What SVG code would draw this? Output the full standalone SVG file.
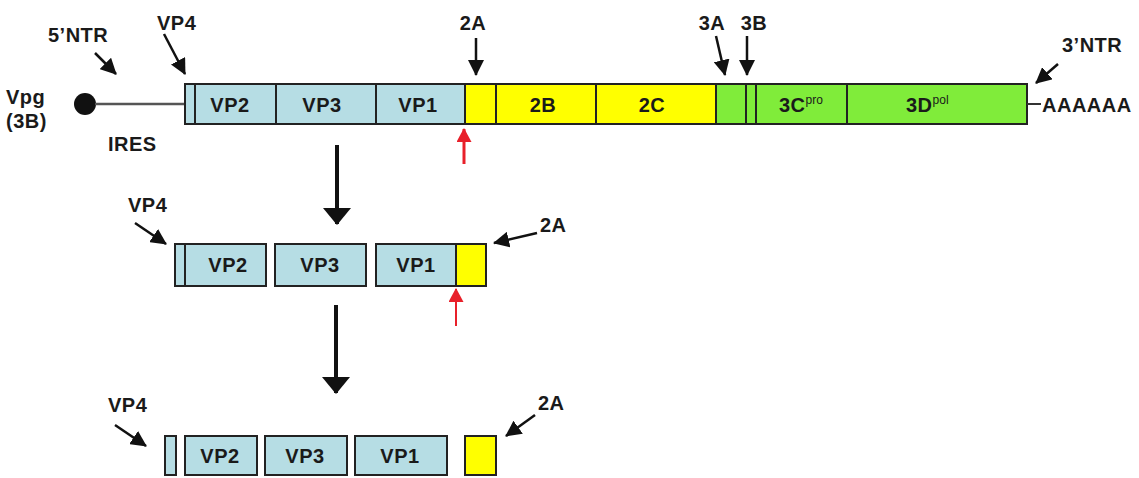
<svg xmlns="http://www.w3.org/2000/svg" width="1139" height="478" viewBox="0 0 1139 478">
<defs>
<style>
text{font-family:"Liberation Sans",Arial,sans-serif;font-weight:bold;font-size:20px;letter-spacing:0.5px;fill:#1a1a1a}
.c{text-anchor:middle}
.b{fill:#b6dde4;stroke:#222;stroke-width:2}
.y{fill:#ffff00;stroke:#222;stroke-width:2}
.g{fill:#80ec3a;stroke:#222;stroke-width:2}
.a{stroke:#111;stroke-width:2.5;fill:none}
.big{stroke:#111;stroke-width:4;fill:none}
.red{stroke:#e8202a;fill:none}
.s{font-size:12px;font-weight:normal;letter-spacing:0}
</style>
<marker id="ah" viewBox="0 0 16 16" refX="15" refY="8" markerWidth="16" markerHeight="16" orient="auto" markerUnits="userSpaceOnUse"><path d="M0,0L16,8L0,16z" fill="#111"/></marker>
<marker id="bh" viewBox="0 0 17 28" refX="16" refY="14" markerWidth="17" markerHeight="28" orient="auto" markerUnits="userSpaceOnUse"><path d="M0,0L17,14L0,28z" fill="#111"/></marker>
<marker id="rh" viewBox="0 0 14 15" refX="13" refY="7.5" markerWidth="14" markerHeight="15" orient="auto" markerUnits="userSpaceOnUse"><path d="M0,0L14,7.5L0,15z" fill="#e8202a"/></marker>
</defs>

<g id="genome">
<circle cx="85" cy="104" r="11" fill="#111"/>
<line x1="95" y1="104" x2="185" y2="104" stroke="#555" stroke-width="2.5"/>
<rect class="b" x="185" y="84" width="10" height="40"/>
<rect class="b" x="195" y="84" width="81" height="40"/>
<rect class="b" x="276" y="84" width="100" height="40"/>
<rect class="b" x="376" y="84" width="89" height="40"/>
<rect class="y" x="465" y="84" width="31" height="40"/>
<rect class="y" x="496" y="84" width="100" height="40"/>
<rect class="y" x="596" y="84" width="120" height="40"/>
<rect class="g" x="716" y="84" width="30" height="40"/>
<rect class="g" x="746" y="84" width="10" height="40"/>
<rect class="g" x="756" y="84" width="91" height="40"/>
<rect class="g" x="847" y="84" width="180" height="40"/>
<line x1="1027" y1="104" x2="1041" y2="104" stroke="#333" stroke-width="2"/>
<text class="c" x="230" y="112">VP2</text>
<text class="c" x="322" y="112">VP3</text>
<text class="c" x="418" y="112">VP1</text>
<text class="c" x="543" y="112">2B</text>
<text class="c" x="652" y="112">2C</text>
<text x="779" y="112">3C<tspan class="s" dy="-8">pro</tspan></text>
<text x="906" y="112">3D<tspan class="s" dy="-8">pol</tspan></text>
<text x="1042" y="112">AAAAAA</text>
<text x="6" y="104">Vpg</text>
<text x="6" y="128">(3B)</text>
<text x="108" y="151">IRES</text>
<text x="48" y="42">5’NTR</text>
<text x="157" y="30">VP4</text>
<text class="c" x="473" y="30">2A</text>
<text class="c" x="712" y="30">3A</text>
<text class="c" x="754" y="30">3B</text>
<text x="1062" y="52">3’NTR</text>
</g>

<g id="cleaved1">
<rect class="b" x="175" y="244" width="10" height="42"/>
<rect class="b" x="185" y="244" width="81" height="42"/>
<rect class="b" x="275" y="244" width="91" height="42"/>
<rect class="b" x="376" y="244" width="80" height="42"/>
<rect class="y" x="456" y="244" width="30" height="42"/>
<text class="c" x="228" y="272">VP2</text>
<text class="c" x="320" y="272">VP3</text>
<text class="c" x="416" y="272">VP1</text>
<text x="128" y="212">VP4</text>
<text x="540" y="232">2A</text>
</g>

<g id="cleaved2">
<rect class="b" x="165" y="436" width="11" height="39"/>
<rect class="b" x="185" y="436" width="72" height="39"/>
<rect class="b" x="265" y="436" width="82" height="39"/>
<rect class="b" x="355" y="436" width="92" height="39"/>
<rect class="y" x="465" y="436" width="31" height="39"/>
<text class="c" x="220" y="463">VP2</text>
<text class="c" x="305" y="463">VP3</text>
<text class="c" x="400" y="463">VP1</text>
<text x="108" y="412">VP4</text>
<text x="538" y="410">2A</text>
</g>

<g id="connectors">
<line class="a" x1="95" y1="53" x2="116" y2="74" marker-end="url(#ah)"/>
<line class="a" x1="164" y1="34" x2="185" y2="74" marker-end="url(#ah)"/>
<line class="a" x1="476" y1="38" x2="476" y2="75" marker-end="url(#ah)"/>
<line class="a" x1="716" y1="36" x2="725" y2="75" marker-end="url(#ah)"/>
<line class="a" x1="747" y1="36" x2="747" y2="75" marker-end="url(#ah)"/>
<line class="a" x1="1058" y1="64" x2="1036" y2="83" marker-end="url(#ah)"/>
<line class="red" stroke-width="3" x1="464" y1="164" x2="464" y2="129" marker-end="url(#rh)"/>
<line class="big" x1="337" y1="145" x2="337" y2="224" marker-end="url(#bh)"/>
<line class="a" x1="135" y1="223" x2="166" y2="244" marker-end="url(#ah)"/>
<line class="a" x1="537" y1="233" x2="494" y2="243" marker-end="url(#ah)"/>
<line class="red" stroke-width="2" x1="456" y1="326" x2="456" y2="289" marker-end="url(#rh)"/>
<line class="big" x1="336" y1="305" x2="336" y2="393" marker-end="url(#bh)"/>
<line class="a" x1="115" y1="425" x2="146" y2="446" marker-end="url(#ah)"/>
<line class="a" x1="535" y1="415" x2="506" y2="436" marker-end="url(#ah)"/>
</g>
</svg>
